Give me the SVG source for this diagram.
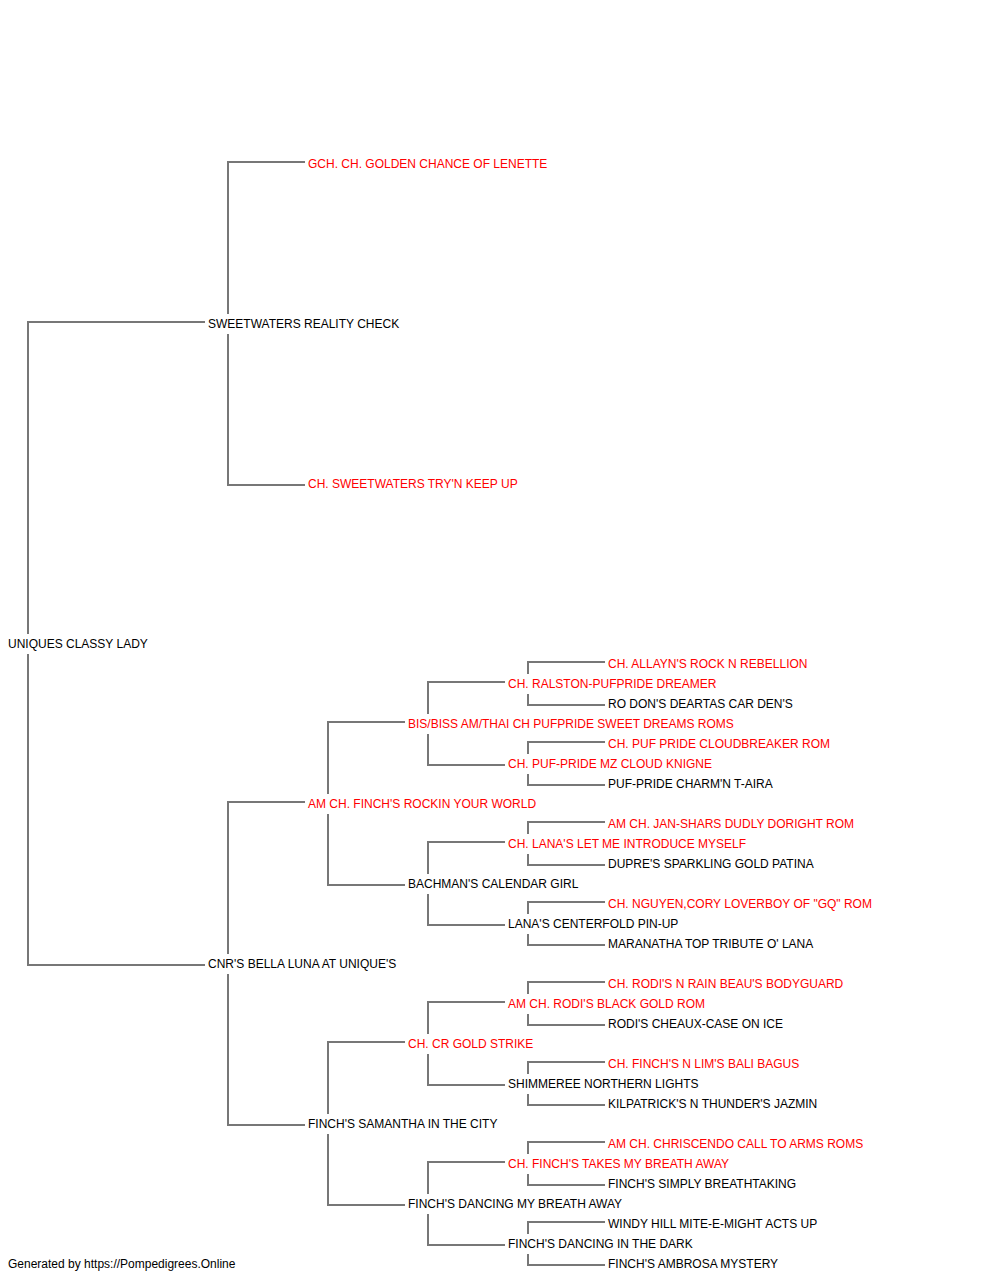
<svg xmlns="http://www.w3.org/2000/svg" width="1000" height="1280" viewBox="0 0 1000 1280">
<style>
text{font-family:"Liberation Sans",Arial,sans-serif;font-size:12px;fill:#000}
text.r{fill:#ff0000}
#connectors path{fill:none;stroke:#777;stroke-width:2}
</style>
<rect width="1000" height="1280" fill="#fff"/>
<g id="connectors">
<path d="M205 322 H28 V634 M28 654 V965 H205"/>
<path d="M305 162 H228 V314 M228 334 V485 H305"/>
<path d="M305 802 H228 V954 M228 974 V1125 H305"/>
<path d="M405 722 H328 V794 M328 814 V885 H405"/>
<path d="M405 1042 H328 V1114 M328 1134 V1205 H405"/>
<path d="M505 682 H428 V714 M428 734 V765 H505"/>
<path d="M505 842 H428 V874 M428 894 V925 H505"/>
<path d="M505 1002 H428 V1034 M428 1054 V1085 H505"/>
<path d="M505 1162 H428 V1194 M428 1214 V1245 H505"/>
<path d="M605 662 H528 V674 M528 694 V705 H605"/>
<path d="M605 742 H528 V754 M528 774 V785 H605"/>
<path d="M605 822 H528 V834 M528 854 V865 H605"/>
<path d="M605 902 H528 V914 M528 934 V945 H605"/>
<path d="M605 982 H528 V994 M528 1014 V1025 H605"/>
<path d="M605 1062 H528 V1074 M528 1094 V1105 H605"/>
<path d="M605 1142 H528 V1154 M528 1174 V1185 H605"/>
<path d="M605 1222 H528 V1234 M528 1254 V1265 H605"/>
</g>
<g id="n1"><text x="8" y="648">UNIQUES CLASSY LADY</text></g>
<g id="n2"><text x="208" y="328">SWEETWATERS REALITY CHECK</text></g>
<g id="n3"><text x="208" y="968">CNR'S BELLA LUNA AT UNIQUE'S</text></g>
<g id="n4"><text class="r" x="308" y="168">GCH. CH. GOLDEN CHANCE OF LENETTE</text></g>
<g id="n5"><text class="r" x="308" y="488">CH. SWEETWATERS TRY'N KEEP UP</text></g>
<g id="n6"><text class="r" x="308" y="808">AM CH. FINCH'S ROCKIN YOUR WORLD</text></g>
<g id="n7"><text x="308" y="1128">FINCH'S SAMANTHA IN THE CITY</text></g>
<g id="n8"><text class="r" x="408" y="728">BIS/BISS AM/THAI CH PUFPRIDE SWEET DREAMS ROMS</text></g>
<g id="n9"><text x="408" y="888">BACHMAN'S CALENDAR GIRL</text></g>
<g id="n10"><text class="r" x="408" y="1048">CH. CR GOLD STRIKE</text></g>
<g id="n11"><text x="408" y="1208">FINCH'S DANCING MY BREATH AWAY</text></g>
<g id="n12"><text class="r" x="508" y="688">CH. RALSTON-PUFPRIDE DREAMER</text></g>
<g id="n13"><text class="r" x="508" y="768">CH. PUF-PRIDE MZ CLOUD KNIGNE</text></g>
<g id="n14"><text class="r" x="508" y="848">CH. LANA'S LET ME INTRODUCE MYSELF</text></g>
<g id="n15"><text x="508" y="928">LANA'S CENTERFOLD PIN-UP</text></g>
<g id="n16"><text class="r" x="508" y="1008">AM CH. RODI'S BLACK GOLD ROM</text></g>
<g id="n17"><text x="508" y="1088">SHIMMEREE NORTHERN LIGHTS</text></g>
<g id="n18"><text class="r" x="508" y="1168">CH. FINCH'S TAKES MY BREATH AWAY</text></g>
<g id="n19"><text x="508" y="1248">FINCH'S DANCING IN THE DARK</text></g>
<g id="n20"><text class="r" x="608" y="668">CH. ALLAYN'S ROCK N REBELLION</text></g>
<g id="n21"><text x="608" y="708">RO DON'S DEARTAS CAR DEN'S</text></g>
<g id="n22"><text class="r" x="608" y="748">CH. PUF PRIDE CLOUDBREAKER ROM</text></g>
<g id="n23"><text x="608" y="788">PUF-PRIDE CHARM'N T-AIRA</text></g>
<g id="n24"><text class="r" x="608" y="828">AM CH. JAN-SHARS DUDLY DORIGHT ROM</text></g>
<g id="n25"><text x="608" y="868">DUPRE'S SPARKLING GOLD PATINA</text></g>
<g id="n26"><text class="r" x="608" y="908">CH. NGUYEN,CORY LOVERBOY OF "GQ" ROM</text></g>
<g id="n27"><text x="608" y="948">MARANATHA TOP TRIBUTE O' LANA</text></g>
<g id="n28"><text class="r" x="608" y="988">CH. RODI'S N RAIN BEAU'S BODYGUARD</text></g>
<g id="n29"><text x="608" y="1028">RODI'S CHEAUX-CASE ON ICE</text></g>
<g id="n30"><text class="r" x="608" y="1068">CH. FINCH'S N LIM'S BALI BAGUS</text></g>
<g id="n31"><text x="608" y="1108">KILPATRICK'S N THUNDER'S JAZMIN</text></g>
<g id="n32"><text class="r" x="608" y="1148">AM CH. CHRISCENDO CALL TO ARMS ROMS</text></g>
<g id="n33"><text x="608" y="1188">FINCH'S SIMPLY BREATHTAKING</text></g>
<g id="n34"><text x="608" y="1228">WINDY HILL MITE-E-MIGHT ACTS UP</text></g>
<g id="n35"><text x="608" y="1268">FINCH'S AMBROSA MYSTERY</text></g>
<g id="footer"><text x="8" y="1268">Generated by https://Pompedigrees.Online</text></g>
</svg>
